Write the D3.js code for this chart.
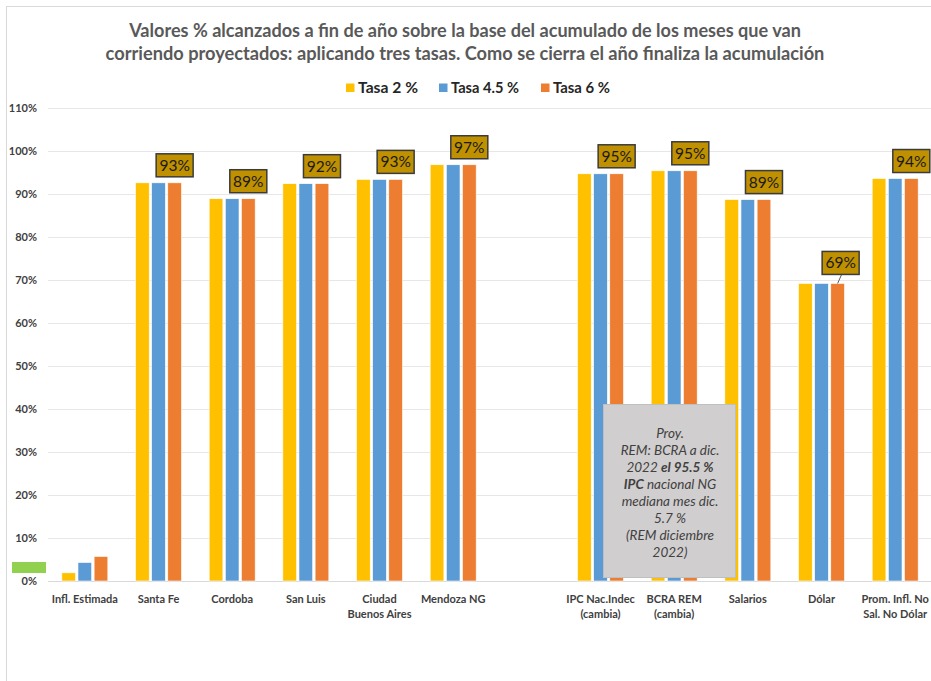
<!DOCTYPE html>
<html><head><meta charset="utf-8">
<script src="https://cdn.jsdelivr.net/npm/d3@7"></script>
<style>
html,body{margin:0;padding:0;background:#fff;}
svg{display:block;font-family:Lato,"Open Sans",sans-serif;}
</style></head>
<body>
<svg id="chart" width="931" height="681"></svg>
<script>
// ---- data ----
const categories = ["Infl. Estimada","Santa Fe","Cordoba","San Luis","Ciudad|Buenos Aires","Mendoza NG","","IPC Nac.Indec|(cambia)","BCRA REM|(cambia)","Salarios","Dólar","Prom. Infl. No|Sal. No Dólar"];
const seriesNames = ["Tasa 2 %","Tasa 4.5 %","Tasa 6 %"];
const tasa2  = [1.9, 92.6, 88.9, 92.4, 93.4, 96.8, null, 94.7, 95.4, 88.7, 69.2, 93.6];
const tasa45 = [4.3, 92.6, 88.9, 92.4, 93.4, 96.8, null, 94.7, 95.4, 88.7, 69.2, 93.6];
const tasa6  = [5.7, 92.6, 88.9, 92.4, 93.4, 96.8, null, 94.7, 95.4, 88.7, 69.2, 93.6];
const showLabel = [false,true,true,true,true,true,false,true,true,true,true,true];
const yTicks = [0,10,20,30,40,50,60,70,80,90,100,110];
const titleLines = ["Valores % alcanzados a fin de año sobre la base del acumulado de los meses que van",
                    "corriendo proyectados: aplicando tres tasas.  Como se cierra el año finaliza la acumulación"];
const noteLines = [
  [["Proy.",false]],
  [["REM: BCRA  a dic.",false]],
  [["2022 ",false],["el  95.5 %",true]],
  [["IPC",true],[" nacional NG",false]],
  [["mediana mes dic.",false]],
  [["5.7 %",false]],
  [["(REM diciembre",false]],
  [["2022)",false]]
];
const colors = ["#ffc000","#5b9bd5","#ed7d31"];

// ---- chart ----
const svg = d3.select("#chart");
const series = [tasa2, tasa45, tasa6];

// chart area border
svg.append("rect").attr("x",6.5).attr("y",6.5).attr("width",1000).attr("height",1000)
  .attr("fill","none").attr("stroke","#d9d9d9");

const y = d3.scaleLinear().domain([0,110]).range([581,108]);
const x = d3.scaleBand().domain(categories).range([48,932]).padding(0);
const groupW = 46;
const x1 = d3.scaleBand().domain(d3.range(3)).range([0,groupW]).paddingInner(0.15);

// gridlines
svg.append("g").selectAll("line").data(yTicks).join("line")
  .attr("x1",48).attr("x2",931)
  .attr("y1",d=>Math.round(y(d))+0.5).attr("y2",d=>Math.round(y(d))+0.5)
  .attr("stroke",d=>d===0?"#d9d9d9":"#e7e7e7").attr("stroke-width",1);

// y axis labels
const yAxis = d3.axisLeft(y).tickValues(yTicks).tickFormat(d=>d+"%").tickSize(0).tickPadding(0);
const gy = svg.append("g").attr("transform","translate(37,0)").call(yAxis);
gy.select(".domain").remove();
gy.selectAll("text").attr("font-family","Lato, sans-serif").attr("font-size",11)
  .attr("font-weight","bold").attr("fill","#404040");

// green marker
svg.append("rect").attr("x",12).attr("y",562).attr("width",34).attr("height",11).attr("fill","#92d050");

// bars
const flat = [];
categories.forEach((c,i)=>series.forEach((s,j)=>{ if(s[i]!=null) flat.push({c,i,j,v:s[i]}); }));
svg.append("g").selectAll("rect").data(flat).join("rect")
  .attr("x",d=>x(d.c)+x.bandwidth()/2-groupW/2+x1(d.j))
  .attr("width",x1.bandwidth())
  .attr("y",d=>y(d.v)).attr("height",d=>y(0)-y(d.v))
  .attr("fill",d=>colors[d.j]).attr("stroke","#fff").attr("stroke-width",0.6);

// x labels
const gx = svg.append("g");
categories.forEach(c=>{
  if(!c) return;
  const parts = c.split("|");
  const t = gx.append("text").attr("x",x(c)+x.bandwidth()/2).attr("y",602.5)
    .attr("text-anchor","middle").attr("font-size",11).attr("font-weight","bold").attr("fill","#404040");
  parts.forEach((p,k)=>t.append("tspan").attr("x",x(c)+x.bandwidth()/2).attr("dy",k?15:0).text(p));
});

// data labels on orange series
const lab = svg.append("g");
categories.forEach((c,i)=>{
  if(!showLabel[i]) return;
  const v = tasa6[i];
  const cx = x(c)+x.bandwidth()/2-groupW/2+x1(2)+x1.bandwidth()/2;
  const isLeader = (c==="Dólar");
  const gap = isLeader?9:6;
  const bw=37,bh=23;
  const by = y(v)-gap-bh;
  const bx = cx - bw/2 + (isLeader?3:0);
  if(isLeader){
    lab.append("line").attr("x1",bx+bw/2+1).attr("y1",by+bh).attr("x2",cx).attr("y2",y(v))
      .attr("stroke","#595959").attr("stroke-width",1);
  }
  lab.append("rect").attr("x",bx).attr("y",by).attr("width",bw).attr("height",bh)
    .attr("fill","#bf9000").attr("stroke","#3b3b3b").attr("stroke-width",1.5);
  lab.append("text").attr("x",bx+bw/2).attr("y",by+bh/2+5.5).attr("text-anchor","middle")
    .attr("font-size",15.5).attr("fill","#1a1a1a").text(Math.round(v)+"%");
});

// annotation box
svg.append("rect").attr("x",603.5).attr("y",404.5).attr("width",132).attr("height",173)
  .attr("fill","#d0cece").attr("stroke","#bfbfbf").attr("stroke-width",1);
const note = svg.append("g");
noteLines.forEach((ln,k)=>{
  const t = note.append("text").attr("x",670).attr("y",438+k*17).attr("text-anchor","middle")
    .attr("font-size",13.5).attr("font-style","italic").attr("fill","#404040");
  ln.forEach(([s,b])=>t.append("tspan").attr("font-weight",b?"bold":"normal").text(s));
});

// title
const targetW = [672,719];
titleLines.forEach((s,k)=>{
  const t = svg.append("text").attr("x",465).attr("y",37+k*23).attr("text-anchor","middle")
    .attr("font-size",17).attr("font-weight","bold").attr("fill","#595959").text(s);
  const w = t.node().getComputedTextLength();
  t.attr("font-size",17*targetW[k]/w);
});

// legend
const legX = [346,439,541];
const legW = [60,68,57];
seriesNames.forEach((n,j)=>{
  svg.append("rect").attr("x",legX[j]).attr("y",83.5).attr("width",8.5).attr("height",8.5).attr("fill",colors[j]);
  const t = svg.append("text").attr("x",legX[j]+12).attr("y",92.5).attr("font-size",15).attr("font-weight","bold")
    .attr("fill","#262626").text(n);
  const w = t.node().getComputedTextLength();
  t.attr("font-size",Math.min(16,15*legW[j]/w));
});
</script>
</body></html>
